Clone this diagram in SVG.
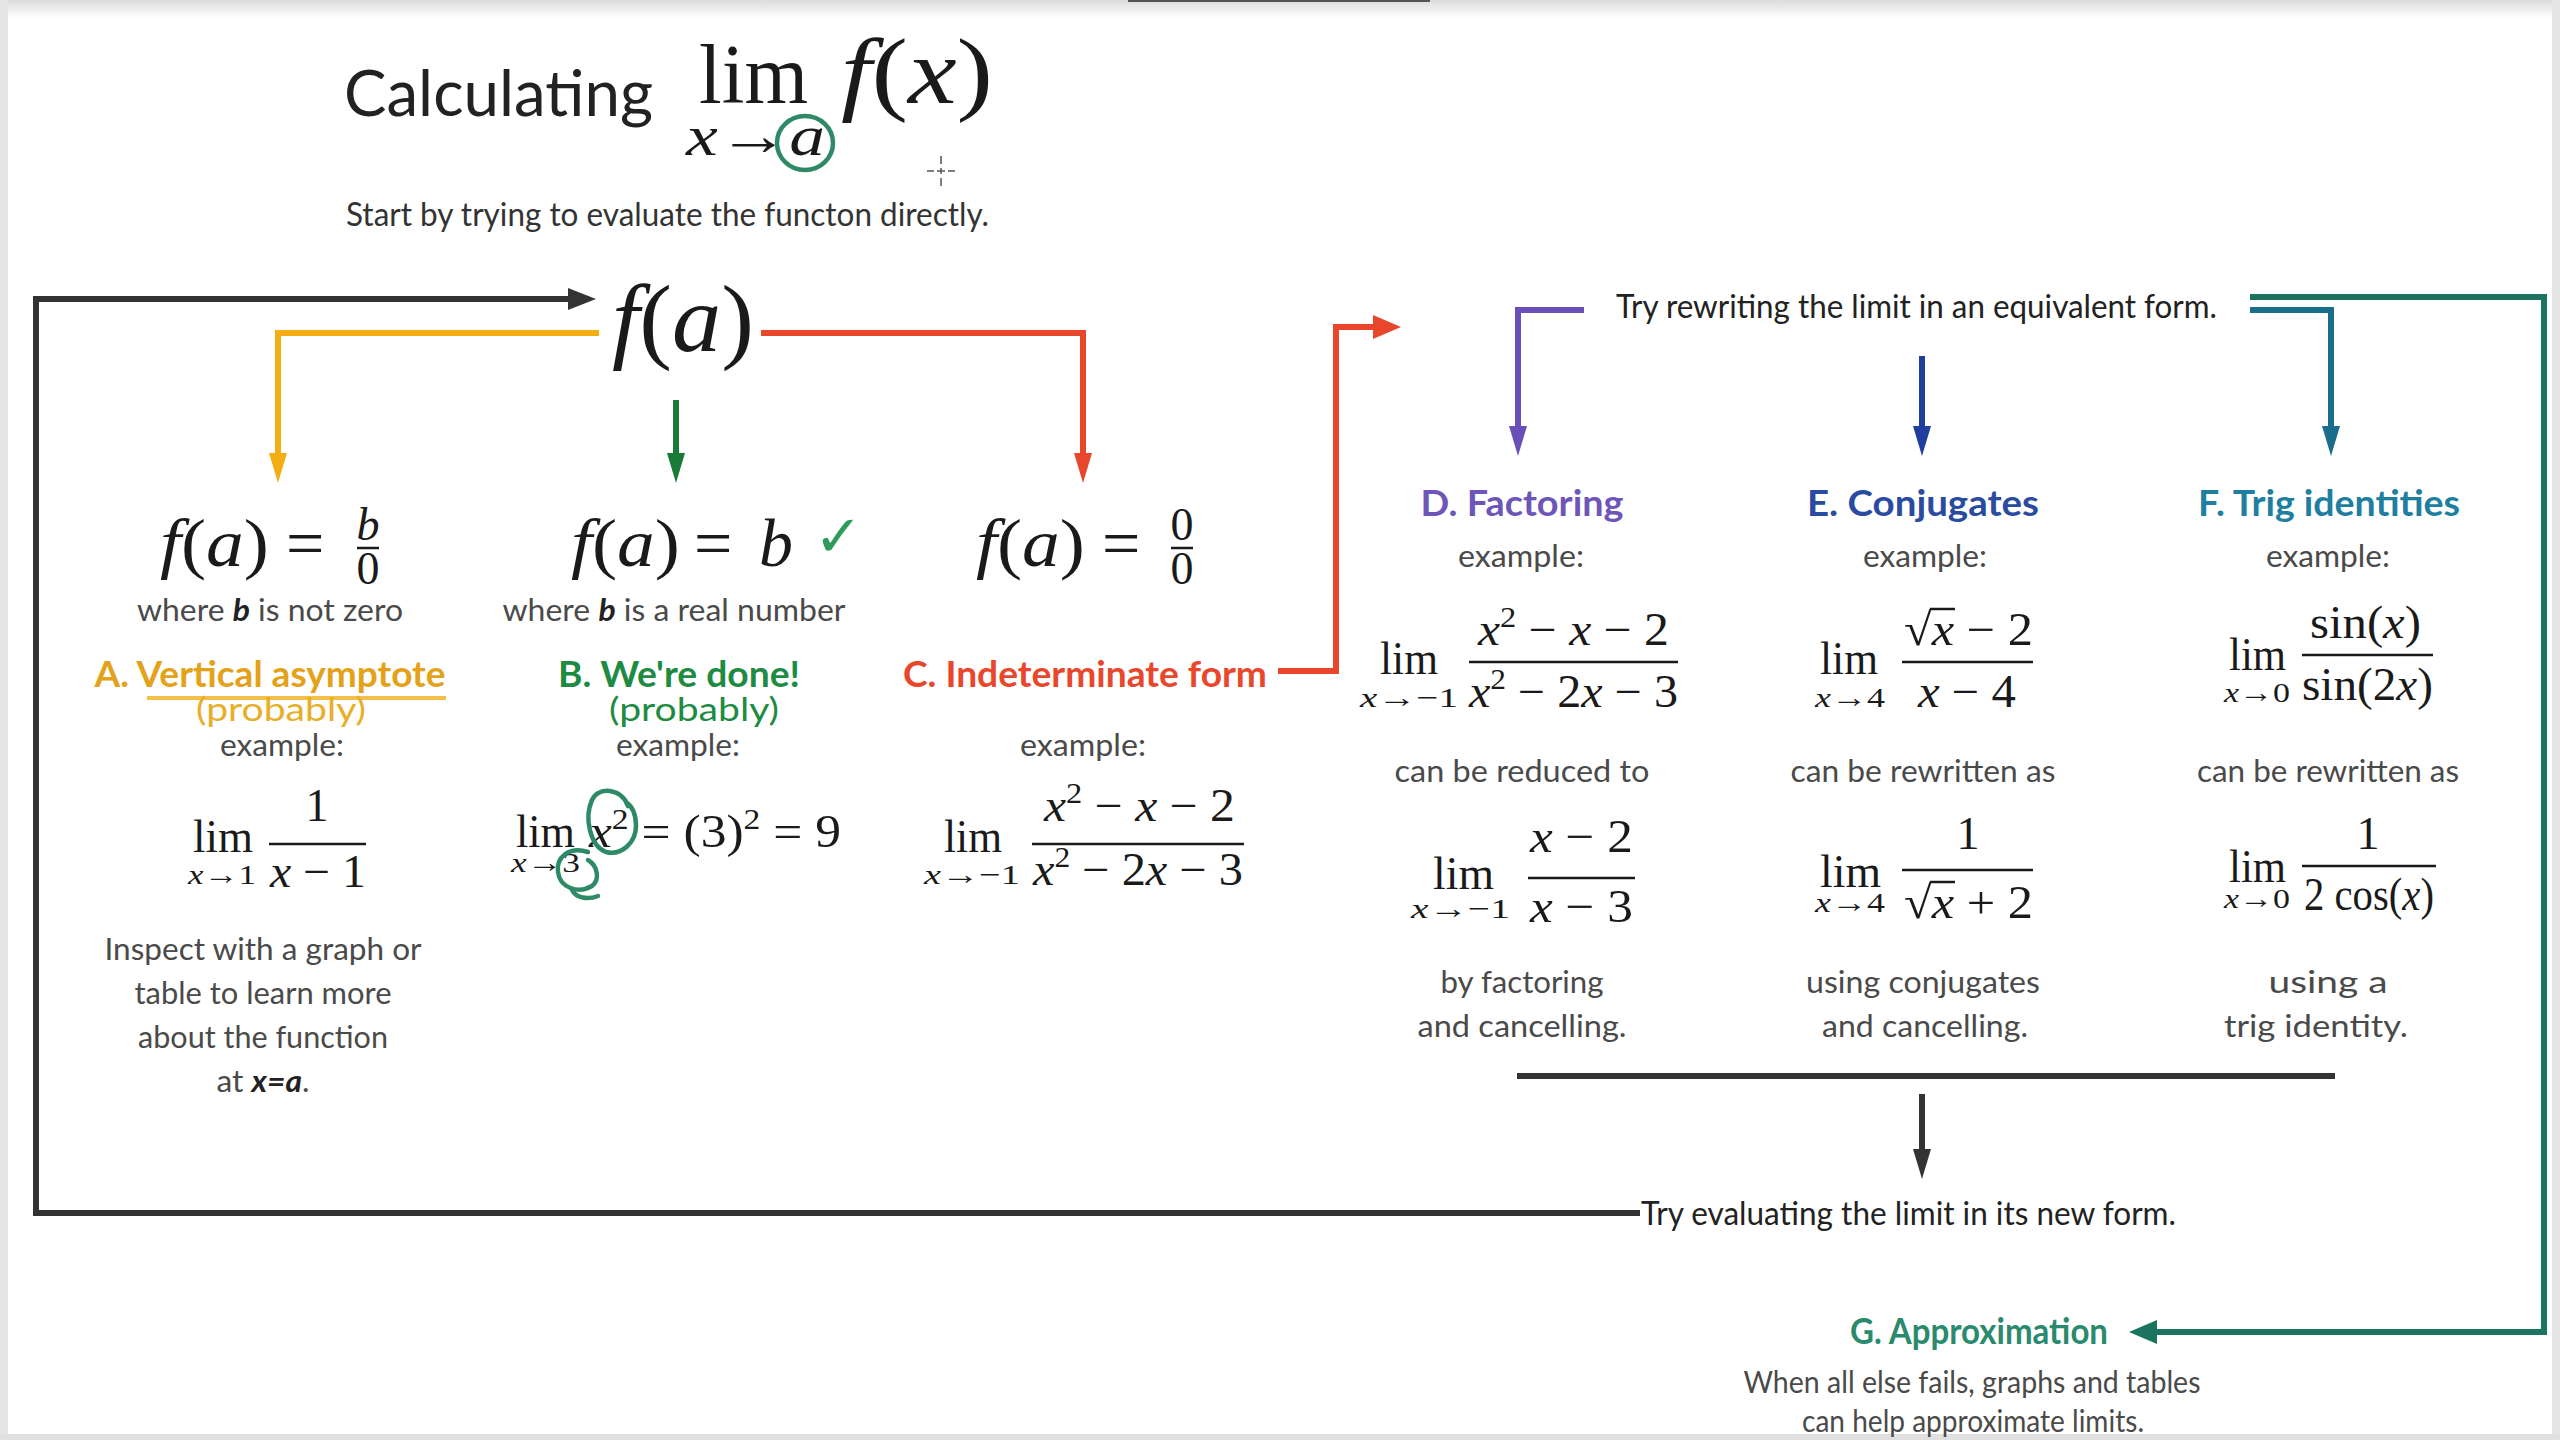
<svg xmlns="http://www.w3.org/2000/svg" width="2560" height="1440" viewBox="0 0 2560 1440">
<defs>
<style>
.t{font-family:Lato,"Open Sans","Liberation Sans",sans-serif}
.body{font-size:30px;fill:#4a4a4a;text-anchor:middle}
.head{font-size:36px;font-weight:700;text-anchor:middle}
.prob{font-size:32px;font-weight:400;text-anchor:middle}
.m{font-family:"Liberation Serif","DejaVu Serif",serif;fill:#1a1a1a}
.i{font-style:italic}
.ln{fill:none;stroke-width:6;stroke-linejoin:miter}
.bar{stroke:#1a1a1a;stroke-width:2.5}
.hand{fill:none;stroke:#2e8a66;stroke-width:4.5;stroke-linecap:round}
</style>
<marker id="ak" markerUnits="userSpaceOnUse" markerWidth="30" markerHeight="22" refX="18" refY="11" orient="auto"><path d="M0,0 L28,11 L0,22 z" fill="#333"/></marker>
<marker id="ay" markerUnits="userSpaceOnUse" markerWidth="30" markerHeight="18" refX="18" refY="9" orient="auto"><path d="M0,0 L30,9 L0,18 z" fill="#f5ad14"/></marker>
<marker id="ag" markerUnits="userSpaceOnUse" markerWidth="30" markerHeight="18" refX="18" refY="9" orient="auto"><path d="M0,0 L30,9 L0,18 z" fill="#1a7a38"/></marker>
<marker id="ar" markerUnits="userSpaceOnUse" markerWidth="30" markerHeight="18" refX="18" refY="9" orient="auto"><path d="M0,0 L30,9 L0,18 z" fill="#e8472c"/></marker>
<marker id="ar2" markerUnits="userSpaceOnUse" markerWidth="30" markerHeight="24" refX="18" refY="12" orient="auto"><path d="M0,0 L28,12 L0,24 z" fill="#e8472c"/></marker>
<marker id="ap" markerUnits="userSpaceOnUse" markerWidth="30" markerHeight="18" refX="18" refY="9" orient="auto"><path d="M0,0 L30,9 L0,18 z" fill="#6b4fb8"/></marker>
<marker id="ab" markerUnits="userSpaceOnUse" markerWidth="30" markerHeight="18" refX="18" refY="9" orient="auto"><path d="M0,0 L30,9 L0,18 z" fill="#1f3e9e"/></marker>
<marker id="at" markerUnits="userSpaceOnUse" markerWidth="30" markerHeight="18" refX="18" refY="9" orient="auto"><path d="M0,0 L30,9 L0,18 z" fill="#1a6e8c"/></marker>
<marker id="aG" markerUnits="userSpaceOnUse" markerWidth="30" markerHeight="24" refX="18" refY="12" orient="auto"><path d="M0,0 L28,12 L0,24 z" fill="#1c7460"/></marker>
<marker id="ak2" markerUnits="userSpaceOnUse" markerWidth="30" markerHeight="18" refX="18" refY="9" orient="auto"><path d="M0,0 L30,9 L0,18 z" fill="#333"/></marker>
<linearGradient id="topg" x1="0" y1="0" x2="0" y2="1"><stop offset="0" stop-color="#dcdcdc"/><stop offset="1" stop-color="#ffffff"/></linearGradient>
</defs>
<rect width="2560" height="1440" fill="#ffffff"/>
<rect x="0" y="0" width="2560" height="18" fill="url(#topg)"/>
<rect x="0" y="0" width="8" height="1440" fill="#e4e4e4"/>
<rect x="2552" y="0" width="8" height="1440" fill="#e4e4e4"/>
<rect x="0" y="1434" width="2560" height="6" fill="#e0e0e0"/>
<rect x="1128" y="0" width="302" height="2" fill="#555"/>

<g id="connectors">
<path class="ln" stroke="#333" d="M1640,1213 L36,1213 L36,299 L586,299" marker-end="url(#ak)"/>
<path class="ln" stroke="#f5ad14" d="M599,333 L278,333 L278,471" marker-end="url(#ay)"/>
<path class="ln" stroke="#1a7a38" d="M676,400 L676,471" marker-end="url(#ag)"/>
<path class="ln" stroke="#e8472c" d="M761,333 L1083,333 L1083,471" marker-end="url(#ar)"/>
<path class="ln" stroke="#e8472c" d="M1278,671 L1336,671 L1336,327 L1391,327" marker-end="url(#ar2)"/>
<path class="ln" stroke="#6b4fb8" d="M1584,310 L1518,310 L1518,444" marker-end="url(#ap)"/>
<path class="ln" stroke="#1f3e9e" d="M1922,356 L1922,444" marker-end="url(#ab)"/>
<path class="ln" stroke="#1a6e8c" d="M2250,310 L2331,310 L2331,444" marker-end="url(#at)"/>
<path class="ln" stroke="#1c7460" d="M2250,297 L2544,297 L2544,1332 L2139,1332" marker-end="url(#aG)"/>
<path class="ln" stroke="#333" d="M1517,1076 L2335,1076"/>
<path class="ln" stroke="#333" d="M1922,1094 L1922,1167" marker-end="url(#ak2)"/>
</g>

<g id="title">
<text class="t" x="344" y="116" font-size="64" fill="#222" textLength="309" lengthAdjust="spacingAndGlyphs">Calculating</text>
<text class="m" x="699" y="103" font-size="84" textLength="109" lengthAdjust="spacingAndGlyphs">lim</text>
<text class="m" x="841" y="103" font-size="94" textLength="152" lengthAdjust="spacingAndGlyphs"><tspan class="i">f</tspan>(<tspan class="i">x</tspan>)</text>
<text class="m" x="686" y="155" font-size="58" textLength="139" lengthAdjust="spacingAndGlyphs"><tspan class="i">x</tspan>→<tspan class="i">a</tspan></text>
<ellipse cx="805" cy="143" rx="28" ry="27" class="hand" stroke="#2e8a6a"/>
<text class="t" x="346" y="226" font-size="32" fill="#333" textLength="643" lengthAdjust="spacingAndGlyphs">Start by trying to evaluate the functon directly.</text>
<g stroke="#555" stroke-width="1.5"><path d="M941,156 L941,164 M941,168 L941,174 M941,178 L941,186 M927,171 L934,171 M937,171 L945,171 M948,171 L955,171"/></g>
</g>

<g id="fa">
<text class="m" x="612" y="351" font-size="96" textLength="142" lengthAdjust="spacingAndGlyphs"><tspan class="i">f</tspan>(<tspan class="i">a</tspan>)</text>
</g>

<g id="nodeA">
<text class="m" x="160" y="566" font-size="68" textLength="109" lengthAdjust="spacingAndGlyphs"><tspan class="i">f</tspan>(<tspan class="i">a</tspan>)</text>
<text class="m" x="286" y="566" font-size="68">=</text>
<text class="m i" x="368" y="540" font-size="46" text-anchor="middle">b</text>
<line class="bar" x1="357" y1="548" x2="379" y2="548"/>
<text class="m" x="368" y="584" font-size="46" text-anchor="middle">0</text>
<text class="t body" x="270" y="621" textLength="266" lengthAdjust="spacingAndGlyphs">where <tspan font-weight="700" font-style="italic" fill="#222">b</tspan> is not zero</text>
<text class="t head" x="270" y="687" fill="#e3a21a" textLength="351" lengthAdjust="spacingAndGlyphs">A. Vertical asymptote</text>
<line x1="147" y1="698" x2="446" y2="698" stroke="#f5c04a" stroke-width="4"/>
<text class="t prob" x="281" y="721" fill="#e8ae2a" textLength="170" lengthAdjust="spacingAndGlyphs">(probably)</text>
<text class="t body" x="282" y="756" textLength="124" lengthAdjust="spacingAndGlyphs">example:</text>
<text class="m" x="193" y="852" font-size="46" textLength="60" lengthAdjust="spacingAndGlyphs">lim</text>
<text class="m" x="188" y="884" font-size="28" textLength="68" lengthAdjust="spacingAndGlyphs"><tspan class="i">x</tspan>→1</text>
<text class="m" x="317" y="821" font-size="46" text-anchor="middle">1</text>
<line class="bar" x1="269" y1="844" x2="366" y2="844"/>
<text class="m" x="270" y="887" font-size="46" textLength="96" lengthAdjust="spacingAndGlyphs"><tspan class="i">x</tspan> − 1</text>
<text class="t body" x="263" y="960" textLength="317" lengthAdjust="spacingAndGlyphs">Inspect with a graph or</text>
<text class="t body" x="263" y="1004" textLength="257" lengthAdjust="spacingAndGlyphs">table to learn more</text>
<text class="t body" x="263" y="1048" textLength="250" lengthAdjust="spacingAndGlyphs">about the function</text>
<text class="t body" x="263" y="1092" textLength="93" lengthAdjust="spacingAndGlyphs">at <tspan font-weight="700" font-style="italic" fill="#222">x=a</tspan>.</text>
</g>

<g id="nodeB">
<text class="m" x="571" y="566" font-size="68" textLength="109" lengthAdjust="spacingAndGlyphs"><tspan class="i">f</tspan>(<tspan class="i">a</tspan>)</text>
<text class="m" x="694" y="566" font-size="68">=</text>
<text class="m i" x="759" y="566" font-size="68">b</text>
<text x="814" y="556" font-family="DejaVu Sans,sans-serif" font-size="58" fill="#2e9b5a">✓</text>
<text class="t body" x="674" y="621" textLength="343" lengthAdjust="spacingAndGlyphs">where <tspan font-weight="700" font-style="italic" fill="#222">b</tspan> is a real number</text>
<text class="t head" x="679" y="687" fill="#1e8b43" textLength="242" lengthAdjust="spacingAndGlyphs">B. We're done!</text>
<text class="t prob" x="694" y="721" fill="#1e8b43" textLength="170" lengthAdjust="spacingAndGlyphs">(probably)</text>
<text class="t body" x="678" y="756" textLength="124" lengthAdjust="spacingAndGlyphs">example:</text>
<text class="m" x="516" y="847" font-size="46" textLength="59" lengthAdjust="spacingAndGlyphs">lim</text>
<text class="m" x="511" y="872" font-size="28" textLength="69" lengthAdjust="spacingAndGlyphs"><tspan class="i">x</tspan>→3</text>
<text class="m" x="589" y="847" font-size="46" textLength="252" lengthAdjust="spacingAndGlyphs"><tspan class="i">x</tspan><tspan dy="-18" font-size="30">2</tspan><tspan dy="18"> = (3)</tspan><tspan dy="-18" font-size="30">2</tspan><tspan dy="18"> = 9</tspan></text>
<path class="hand" d="M628,806 C622,788 598,786 592,800 C584,818 590,846 606,852 C622,856 636,842 636,826 C636,812 632,806 626,802"/>
<path class="hand" d="M588,852 C568,846 556,858 558,872 C560,888 578,894 592,886 C600,880 598,866 588,860 M572,890 C576,898 588,900 598,896"/>
</g>

<g id="nodeC">
<text class="m" x="976" y="566" font-size="68" textLength="109" lengthAdjust="spacingAndGlyphs"><tspan class="i">f</tspan>(<tspan class="i">a</tspan>)</text>
<text class="m" x="1102" y="566" font-size="68">=</text>
<text class="m" x="1182" y="540" font-size="46" text-anchor="middle">0</text>
<line class="bar" x1="1171" y1="548" x2="1193" y2="548"/>
<text class="m" x="1182" y="584" font-size="46" text-anchor="middle">0</text>
<text class="t head" x="1085" y="687" fill="#e8472c" textLength="364" lengthAdjust="spacingAndGlyphs">C. Indeterminate form</text>
<text class="t body" x="1083" y="756" textLength="126" lengthAdjust="spacingAndGlyphs">example:</text>
<text class="m" x="944" y="852" font-size="46" textLength="58" lengthAdjust="spacingAndGlyphs">lim</text>
<text class="m" x="924" y="884" font-size="28" textLength="96" lengthAdjust="spacingAndGlyphs"><tspan class="i">x</tspan>→−1</text>
<text class="m" x="1044" y="821" font-size="46" textLength="191" lengthAdjust="spacingAndGlyphs"><tspan class="i">x</tspan><tspan dy="-18" font-size="30">2</tspan><tspan dy="18"> − </tspan><tspan class="i">x</tspan> − 2</text>
<line class="bar" x1="1032" y1="844" x2="1244" y2="844"/>
<text class="m" x="1033" y="885" font-size="46" textLength="210" lengthAdjust="spacingAndGlyphs"><tspan class="i">x</tspan><tspan dy="-18" font-size="30">2</tspan><tspan dy="18"> − 2</tspan><tspan class="i">x</tspan> − 3</text>
</g>

<g id="rewrite">
<text class="t" x="1616" y="318" font-size="32" fill="#222" textLength="601" lengthAdjust="spacingAndGlyphs">Try rewriting the limit in an equivalent form.</text>
</g>

<g id="nodeD">
<text class="t head" x="1522" y="516" fill="#6e56b8" textLength="203" lengthAdjust="spacingAndGlyphs">D. Factoring</text>
<text class="t body" x="1521" y="567" textLength="126" lengthAdjust="spacingAndGlyphs">example:</text>
<text class="m" x="1380" y="674" font-size="46" textLength="58" lengthAdjust="spacingAndGlyphs">lim</text>
<text class="m" x="1360" y="707" font-size="28" textLength="98" lengthAdjust="spacingAndGlyphs"><tspan class="i">x</tspan>→−1</text>
<text class="m" x="1478" y="645" font-size="46" textLength="191" lengthAdjust="spacingAndGlyphs"><tspan class="i">x</tspan><tspan dy="-18" font-size="30">2</tspan><tspan dy="18"> − </tspan><tspan class="i">x</tspan> − 2</text>
<line class="bar" x1="1469" y1="662" x2="1678" y2="662"/>
<text class="m" x="1469" y="707" font-size="46" textLength="209" lengthAdjust="spacingAndGlyphs"><tspan class="i">x</tspan><tspan dy="-18" font-size="30">2</tspan><tspan dy="18"> − 2</tspan><tspan class="i">x</tspan> − 3</text>
<text class="t body" x="1522" y="782" textLength="255" lengthAdjust="spacingAndGlyphs">can be reduced to</text>
<text class="m" x="1433" y="889" font-size="46" textLength="61" lengthAdjust="spacingAndGlyphs">lim</text>
<text class="m" x="1411" y="918" font-size="28" textLength="99" lengthAdjust="spacingAndGlyphs"><tspan class="i">x</tspan>→−1</text>
<text class="m" x="1530" y="852" font-size="46" textLength="103" lengthAdjust="spacingAndGlyphs"><tspan class="i">x</tspan> − 2</text>
<line class="bar" x1="1528" y1="878" x2="1635" y2="878"/>
<text class="m" x="1530" y="922" font-size="46" textLength="103" lengthAdjust="spacingAndGlyphs"><tspan class="i">x</tspan> − 3</text>
<text class="t body" x="1522" y="993" textLength="163" lengthAdjust="spacingAndGlyphs">by factoring</text>
<text class="t body" x="1522" y="1037" textLength="209" lengthAdjust="spacingAndGlyphs">and cancelling.</text>
</g>

<g id="nodeE">
<text class="t head" x="1923" y="516" fill="#2a4ba0" textLength="232" lengthAdjust="spacingAndGlyphs">E. Conjugates</text>
<text class="t body" x="1925" y="567" textLength="124" lengthAdjust="spacingAndGlyphs">example:</text>
<text class="m" x="1820" y="674" font-size="46" textLength="58" lengthAdjust="spacingAndGlyphs">lim</text>
<text class="m" x="1815" y="707" font-size="28" textLength="70" lengthAdjust="spacingAndGlyphs"><tspan class="i">x</tspan>→4</text>
<text class="m" x="1904" y="645" font-size="46" textLength="129" lengthAdjust="spacingAndGlyphs">√<tspan class="i">x</tspan> − 2</text>
<line x1="1930" y1="609" x2="1955" y2="609" stroke="#1a1a1a" stroke-width="2.5"/>
<line class="bar" x1="1902" y1="662" x2="2033" y2="662"/>
<text class="m" x="1918" y="707" font-size="46" textLength="98" lengthAdjust="spacingAndGlyphs"><tspan class="i">x</tspan> − 4</text>
<text class="t body" x="1923" y="782" textLength="265" lengthAdjust="spacingAndGlyphs">can be rewritten as</text>
<text class="m" x="1820" y="887" font-size="46" textLength="61" lengthAdjust="spacingAndGlyphs">lim</text>
<text class="m" x="1815" y="912" font-size="28" textLength="70" lengthAdjust="spacingAndGlyphs"><tspan class="i">x</tspan>→4</text>
<text class="m" x="1968" y="849" font-size="46" text-anchor="middle">1</text>
<line class="bar" x1="1902" y1="870" x2="2033" y2="870"/>
<text class="m" x="1904" y="918" font-size="46" textLength="129" lengthAdjust="spacingAndGlyphs">√<tspan class="i">x</tspan> + 2</text>
<line x1="1930" y1="882" x2="1955" y2="882" stroke="#1a1a1a" stroke-width="2.5"/>
<text class="t body" x="1923" y="993" textLength="234" lengthAdjust="spacingAndGlyphs">using conjugates</text>
<text class="t body" x="1925" y="1037" textLength="206" lengthAdjust="spacingAndGlyphs">and cancelling.</text>
</g>

<g id="nodeF">
<text class="t head" x="2329" y="516" fill="#1e7fa0" textLength="262" lengthAdjust="spacingAndGlyphs">F. Trig identities</text>
<text class="t body" x="2328" y="567" textLength="124" lengthAdjust="spacingAndGlyphs">example:</text>
<text class="m" x="2229" y="670" font-size="46" textLength="57" lengthAdjust="spacingAndGlyphs">lim</text>
<text class="m" x="2224" y="702" font-size="28" textLength="66" lengthAdjust="spacingAndGlyphs"><tspan class="i">x</tspan>→0</text>
<text class="m" x="2310" y="638" font-size="46" textLength="111" lengthAdjust="spacingAndGlyphs">sin(<tspan class="i">x</tspan>)</text>
<line class="bar" x1="2302" y1="655" x2="2433" y2="655"/>
<text class="m" x="2302" y="700" font-size="46" textLength="131" lengthAdjust="spacingAndGlyphs">sin(2<tspan class="i">x</tspan>)</text>
<text class="t body" x="2328" y="782" textLength="262" lengthAdjust="spacingAndGlyphs">can be rewritten as</text>
<text class="m" x="2229" y="882" font-size="46" textLength="57" lengthAdjust="spacingAndGlyphs">lim</text>
<text class="m" x="2224" y="908" font-size="28" textLength="66" lengthAdjust="spacingAndGlyphs"><tspan class="i">x</tspan>→0</text>
<text class="m" x="2368" y="849" font-size="46" text-anchor="middle">1</text>
<line class="bar" x1="2302" y1="866" x2="2436" y2="866"/>
<text class="m" x="2304" y="910" font-size="46" textLength="130" lengthAdjust="spacingAndGlyphs">2 cos(<tspan class="i">x</tspan>)</text>
<text class="t body" x="2328" y="993" textLength="119" lengthAdjust="spacingAndGlyphs">using a</text>
<text class="t body" x="2316" y="1037" textLength="184" lengthAdjust="spacingAndGlyphs">trig identity.</text>
</g>

<g id="evaluate">
<text class="t" x="1641" y="1225" font-size="32" fill="#222" textLength="535" lengthAdjust="spacingAndGlyphs">Try evaluating the limit in its new form.</text>
</g>

<g id="nodeG">
<text class="t head" x="1979" y="1344" fill="#2a8a6e" textLength="258" lengthAdjust="spacingAndGlyphs">G. Approximation</text>
<text class="t body" x="1972" y="1393" textLength="457" lengthAdjust="spacingAndGlyphs">When all else fails, graphs and tables</text>
<text class="t body" x="1973" y="1432" textLength="342" lengthAdjust="spacingAndGlyphs">can help approximate limits.</text>
</g>
</svg>
